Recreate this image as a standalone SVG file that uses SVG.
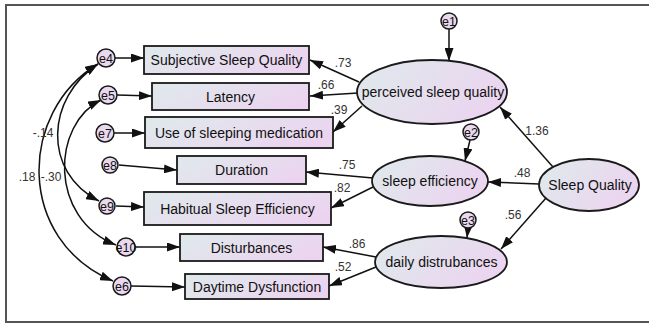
<svg xmlns="http://www.w3.org/2000/svg" width="649" height="325" viewBox="0 0 649 325">
<style>
.box{stroke:#1a1a1a;stroke-width:1.8;fill:url(#g)}
.lat{stroke:#1a1a1a;stroke-width:1.8;fill:url(#g)}
.err{stroke:#1a1a1a;stroke-width:1.5;fill:#e9d8ee}
.t{font-family:"Liberation Sans",Arial,sans-serif;font-size:14px;fill:#111;text-anchor:middle}
.et{font-family:"Liberation Sans",Arial,sans-serif;font-size:12.5px;fill:#111;text-anchor:middle}
.c{font-family:"Liberation Sans",Arial,sans-serif;font-size:12px;fill:#333;text-anchor:middle}
.ln{stroke:#111;stroke-width:1.5;fill:none;marker-end:url(#ah)}
.cv{stroke:#111;stroke-width:1.5;fill:none;marker-end:url(#ah);marker-start:url(#ah)}
</style>
<defs>
<linearGradient id="g" x1="0" y1="0.3" x2="1" y2="0.7">
<stop offset="0" stop-color="#e0e8ec"/>
<stop offset="1" stop-color="#ecd3f0"/>
</linearGradient>
<marker id="ah" markerUnits="userSpaceOnUse" markerWidth="13" markerHeight="9" refX="13" refY="4.5" orient="auto-start-reverse">
<path d="M0,0 L13,4.5 L0,9 z" fill="#111"/>
</marker>
</defs>
<path d="M649,5 L6,5 L6,322 L649,322" fill="none" stroke="#555" stroke-width="2"/>
<g id="connectors">
<path class="ln" d="M115,58 L144,58"/>
<path class="ln" d="M117,95 L152,96"/>
<path class="ln" d="M114,133 L145,133"/>
<path class="ln" d="M119,165 L177,170"/>
<path class="ln" d="M116,206 L144,207"/>
<path class="ln" d="M135,247 L180,247"/>
<path class="ln" d="M131,286 L185,287"/>
<path class="cv" d="M113,281 C16,240 18,112 98,64"/>
<path class="cv" d="M99,201 C42,172 46,98 98,64"/>
<path class="cv" d="M116,245 C48,218 52,124 101,100"/>
<path class="ln" d="M359,82 L310,60"/>
<path class="ln" d="M358,93 L310,96"/>
<path class="ln" d="M362,106 L333,132"/>
<path class="ln" d="M373,178 L306,172"/>
<path class="ln" d="M373,187 L331,208"/>
<path class="ln" d="M376,257 L323,247"/>
<path class="ln" d="M376,267 L329,286"/>
<path class="ln" d="M449,29 L449,61"/>
<path class="ln" d="M470,140 L465,161"/>
<path class="ln" d="M468,228 L467,238"/>
<path class="ln" d="M553,167 L500,107"/>
<path class="ln" d="M539,184 L488,182"/>
<path class="ln" d="M546,198 L501,249"/>
<text class="c" x="343" y="67">.73</text>
<text class="c" x="326" y="89">.66</text>
<text class="c" x="339" y="114">.39</text>
<text class="c" x="347" y="169">.75</text>
<text class="c" x="342" y="192">.82</text>
<text class="c" x="357" y="248">.86</text>
<text class="c" x="343" y="271">.52</text>
<text class="c" x="537" y="135">1.36</text>
<text class="c" x="522" y="177">.48</text>
<text class="c" x="513" y="219">.56</text>
<text class="c" x="43" y="137">-.14</text>
<text class="c" x="27" y="181">.18</text>
<text class="c" x="51" y="181">-.30</text>
</g>
<g id="n_subj"><rect class="box" x="144" y="46" width="165" height="28"/><text class="t" x="226.5" y="65">Subjective Sleep Quality</text></g>
<g id="n_lat"><rect class="box" x="152" y="83" width="157" height="27"/><text class="t" x="230.5" y="101.5">Latency</text></g>
<g id="n_med"><rect class="box" x="145" y="117" width="188" height="31"/><text class="t" x="239" y="137.5">Use of sleeping medication</text></g>
<g id="n_dur"><rect class="box" x="177" y="156" width="129" height="28"/><text class="t" x="241.5" y="175">Duration</text></g>
<g id="n_hab"><rect class="box" x="144" y="192" width="187" height="33"/><text class="t" x="237.5" y="213.5">Habitual Sleep Efficiency</text></g>
<g id="n_dist"><rect class="box" x="180" y="234" width="143" height="27"/><text class="t" x="251.5" y="252.5">Disturbances</text></g>
<g id="n_day"><rect class="box" x="185" y="274" width="144" height="25"/><text class="t" x="257" y="291.5">Daytime Dysfunction</text></g>
<g id="n_psq"><ellipse class="lat" cx="432" cy="92" rx="75" ry="32"/><text class="t" x="433" y="97">perceived sleep quality</text></g>
<g id="n_se"><ellipse class="lat" cx="430" cy="181" rx="58" ry="25"/><text class="t" x="430" y="186">sleep efficiency</text></g>
<g id="n_dd"><ellipse class="lat" cx="441" cy="262" rx="66" ry="26"/><text class="t" x="441.5" y="267">daily distrubances</text></g>
<g id="n_sq"><ellipse class="lat" cx="589" cy="185" rx="50" ry="26"/><text class="t" x="590" y="190">Sleep Quality</text></g>
<g id="e1"><circle class="err" cx="449" cy="21" r="8"/><text class="et" x="449" y="25.5">e1</text></g>
<g id="e2"><circle class="err" cx="471" cy="132" r="8"/><text class="et" x="471" y="136.5">e2</text></g>
<g id="e3"><circle class="err" cx="468" cy="220" r="8"/><text class="et" x="468" y="224.5">e3</text></g>
<g id="e4"><circle class="err" cx="106" cy="58" r="9"/><text class="et" x="106" y="62.5">e4</text></g>
<g id="e5"><circle class="err" cx="108" cy="95" r="9"/><text class="et" x="108" y="99.5">e5</text></g>
<g id="e7"><circle class="err" cx="105" cy="133" r="9"/><text class="et" x="105" y="137.5">e7</text></g>
<g id="e8"><circle class="err" cx="110" cy="165" r="8"/><text class="et" x="110" y="169.5">e8</text></g>
<g id="e9"><circle class="err" cx="107" cy="206" r="8"/><text class="et" x="107" y="210.5">e9</text></g>
<g id="e10"><circle class="err" cx="126" cy="247" r="9"/><text class="et" x="126" y="251.5">e10</text></g>
<g id="e6"><circle class="err" cx="122" cy="286" r="9"/><text class="et" x="122" y="290.5">e6</text></g>
</svg>
